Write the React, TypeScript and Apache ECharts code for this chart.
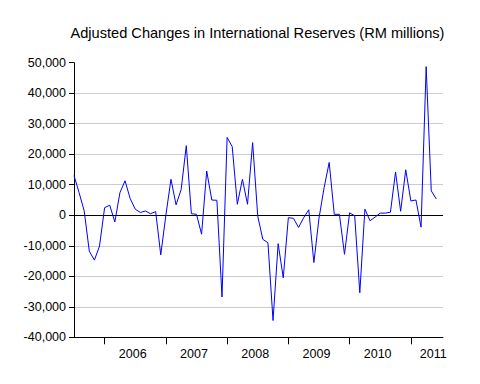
import React, { useEffect, useRef } from "react";
import * as echarts from "echarts";

// Monthly observations starting July 2005
const startYear = 2005;
const startMonth = 7;
const values: number[] = [
  13000, 7400, 1400, -11800, -14700, -10100, 2500, 3300, -2200, 7400, 11300, 5500,
  2000, 900, 1400, 500, 1200, -13000, 0, 11800, 3400, 8500, 22800, 500,
  300, -6200, 14500, 5000, 4900, -26800, 25500, 22500, 3600, 11800, 3600, 23800,
  -300, -7900, -9000, -34500, -9300, -20500, -800, -1000, -4000, -800, 1800, -15500,
  -1000, 9000, 17300, 300, 300, -12800, 800, -200, -25400, 2000, -1800, -600,
  700, 700, 1000, 14200, 1300, 14900, 4700, 5000, -3900, 48700, 8000, 5300,
];
const months: string[] = values.map((_, i) => {
  const m = startMonth - 1 + i;
  return `${startYear + Math.floor(m / 12)}-${String((m % 12) + 1).padStart(2, "0")}`;
});
const yearLabels = ["2006", "2007", "2008", "2009", "2010", "2011"];
const yTicks = [-40000, -30000, -20000, -10000, 0, 10000, 20000, 30000, 40000, 50000];

const TITLE = "Adjusted Changes in International Reserves (RM millions)";
const FONT = "'Liberation Sans', Arial, sans-serif";

export default function App() {
  const ref = useRef<HTMLDivElement>(null);
  useEffect(() => {
    if (!ref.current) return;
    const chart = echarts.init(ref.current, undefined, { renderer: "svg" });
    const xMax = 72.3;
    const tickPos = months
      .map((m, i) => (m.endsWith("-01") ? i : -1))
      .filter((i) => i >= 0);
    const labelPos = yearLabels.map((y) => {
      const first = months.findIndex((m) => m.startsWith(y));
      return Math.min(first + 5.5, xMax - 1.9);
    });
    const splitColors = yTicks.map((t, i) =>
      i === yTicks.length - 1 || i === 0 ? "rgba(0,0,0,0)" : t === 0 ? "#000000" : "#cccccc"
    );
    chart.setOption({
      animation: false,
      backgroundColor: "#ffffff",
      textStyle: { fontFamily: FONT },
      title: {
        text: TITLE,
        left: 70.5,
        top: 25,
        padding: 0,
        textStyle: { fontFamily: FONT, fontSize: 14.6, fontWeight: "normal", color: "#000" },
      },
      grid: {
        left: 74,
        top: 62.7,
        right: 37,
        bottom: 46.7,
        containLabel: false,
        outerBoundsMode: "none",
      },
      xAxis: {
        type: "value",
        min: 0,
        max: xMax,
        splitLine: { show: false },
        axisLine: { show: true, onZero: false, lineStyle: { color: "#000", width: 1 } },
        axisTick: {
          show: true,
          customValues: tickPos,
          length: 7,
          lineStyle: { color: "#000", width: 1 },
        },
        axisLabel: {
          customValues: labelPos,
          margin: 10,
          hideOverlap: false,
          color: "#000",
          fontFamily: FONT,
          fontSize: 12.5,
          formatter: (v: number) => months[Math.min(months.length - 1, Math.floor(v))].slice(0, 4),
        },
      },
      yAxis: {
        type: "value",
        min: -40000,
        max: 50000,
        interval: 10000,
        axisLine: { show: true, onZero: false, lineStyle: { color: "#000", width: 1 } },
        axisTick: { show: true, length: 5, lineStyle: { color: "#000", width: 1 } },
        axisLabel: {
          margin: 8,
          color: "#000",
          fontFamily: FONT,
          fontSize: 12.5,
          formatter: (v: number) => v.toLocaleString("en-US"),
        },
        splitLine: { show: true, lineStyle: { color: splitColors, width: 1 } },
      },
      series: [
        {
          type: "line",
          data: values.map((v, i) => [i, v]),
          showSymbol: false,
          symbol: "none",
          silent: true,
          lineStyle: { color: "#0000ff", width: 1 },
          emphasis: { disabled: true },
        },
      ],
    });
    return () => chart.dispose();
  }, []);
  return (
    <div
      ref={ref}
      style={{ position: "absolute", left: 0, top: 0, width: 480, height: 384 }}
    />
  );
}
